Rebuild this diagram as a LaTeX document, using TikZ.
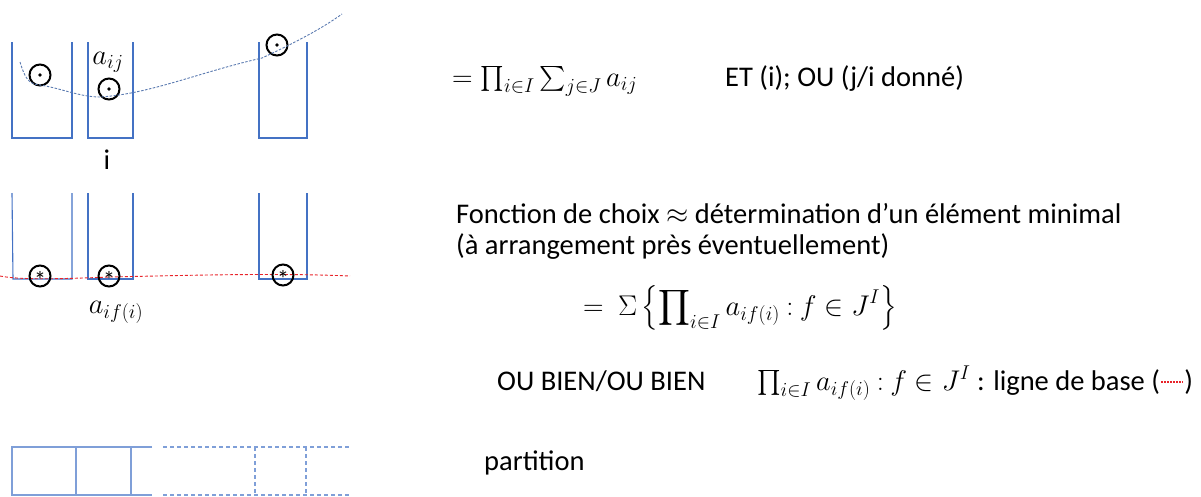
\RequirePackage{fix-cm}
\documentclass[tikz,border=0pt]{standalone}
\usepackage{amsmath}
\usepackage{fontspec}
\setmainfont{Carlito}
\definecolor{boxblue}{HTML}{4472C4}
\definecolor{lightblue}{HTML}{7F9FD8}
\definecolor{curveblue}{HTML}{5A7AB0}
\definecolor{basered}{HTML}{E8232A}
\tikzset{
  bin/.style={draw=boxblue, line width=1.1pt},
  part/.style={draw=lightblue, line width=1.4pt},
  partdash/.style={draw=lightblue, line width=1.4pt, dash pattern=on 4pt off 3pt},
  elem/.style={circle, draw=black, line width=2pt, minimum size=21pt, inner sep=0pt},
  txt/.style={font=\fontsize{28.5}{32}\selectfont, inner sep=0pt, anchor=base west},
  mathlbl/.style={font=\fontsize{28.5}{32}\selectfont, inner sep=0pt},
  curve/.style={draw=curveblue, line width=0.9pt, dash pattern=on 2.5pt off 1.5pt},
  baseline/.style={draw=basered, line width=0.9pt, dash pattern=on 3pt off 2pt},
  legendline/.style={draw=basered, line width=1.2pt, dash pattern=on 2pt off 1pt}
}
\newcommand{\starmark}{\raisebox{-12pt}[0pt][0pt]{\fontsize{24}{24}\selectfont *}}
\begin{document}
\begin{tikzpicture}[x=1pt,y=-1pt]
\useasboundingbox (0,0) rectangle (1201,496);
% ---- top row of bins
\draw[bin] (12,42) -- (12,138) -- (72,138) -- (72,42);
\draw[bin] (88,42) -- (88,138) -- (133,138) -- (133,42);
\draw[bin] (259,42) -- (259,138) -- (307,138) -- (307,42);
\node[elem] (c1) at (40,75) {};
\node[elem] (c2) at (109,89) {};
\node[elem] (c3) at (277,45) {};
\foreach \c in {c1,c2,c3} \fill (\c) circle (1.8pt);
\draw[curve] (20,62) .. controls (25,78) and (28,84) .. (40,85)
  .. controls (60,88) and (80,97) .. (100,97)
  .. controls (150,94) and (200,72) .. (262,58)
  .. controls (290,45) and (320,30) .. (342,14);
\node[mathlbl] (aij) at (108,62) {$a_{ij}$};
\node[mathlbl] (ilbl) at (107,160) {i};
% ---- middle row of bins
\draw[bin] (12,193) -- (13,279) -- (72,279) -- (72,193);
\draw[bin] (88,193) -- (88,279) -- (133,279) -- (133,193);
\draw[bin] (259,193) -- (259,279) -- (307,279) -- (307,193);
\draw[baseline] (0,276) .. controls (20,280) and (60,279) .. (110,277)
  .. controls (200,275) and (280,273) .. (350,276);
\node[elem] (s1) at (40,276) {\starmark};
\node[elem] (s2) at (109,276) {\starmark};
\node[elem] (s3) at (283,275) {\starmark};
\node[mathlbl] (aif) at (116,312) {$a_{if(i)}$};
% ---- bottom partition
\draw[part] (152,447) -- (12,447) -- (12,495) -- (152,495);
\draw[part] (76,447) -- (76,495);
\draw[part] (131,447) -- (131,495);
\draw[partdash] (163,447) -- (350,447);
\draw[partdash] (163,495) -- (350,495);
\draw[partdash] (255,447) -- (255,495);
\draw[partdash] (306,447) -- (306,495);
% ---- texts
\node[txt] (eq1) at (452,86) {$=\prod_{i\in I}\sum_{j\in J}a_{ij}$};
\node[txt] (etou) at (725,86) {ET (i); OU (j/i donné)};
\node[txt] (fc) at (456,223) {Fonction de choix $\approx$ détermination d’un élément minimal};
\node[txt] (arr) at (456,254) {(à arrangement près éventuellement)};
\node[txt, anchor=west] (eq2) at (583,308) {$\displaystyle =\ \Sigma\left\{\prod\nolimits_{i\in I}a_{if(i)}\mathbin{:}f\in J^{I}\right\}$};
\node[txt] (oub) at (497,390) {OU BIEN/OU BIEN};
\node[txt] (prodb) at (757,390) {$\prod_{i\in I}a_{if(i)}\mathbin{:}f\in J^{I}$ : ligne de base (};
\coordinate (lgA) at ([xshift=1pt,yshift=8pt]prodb.base east);
\coordinate (lgB) at ([xshift=23pt,yshift=8pt]prodb.base east);
\draw[legendline] (lgA) -- (lgB);
\node[txt] (rpar) at ([xshift=24pt]prodb.base east) {)};
\node[txt] (part) at (484,470) {partition};
\end{tikzpicture}
\end{document}
